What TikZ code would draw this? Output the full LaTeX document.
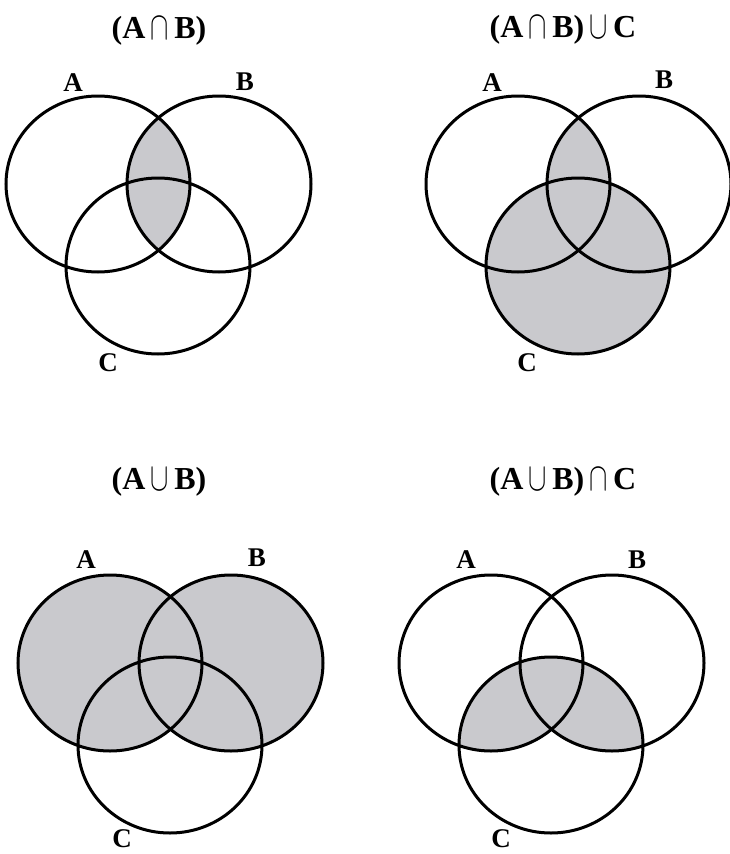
\documentclass[tikz,border=0pt]{standalone}
\usepackage{fontspec}
\usepackage{graphicx}
\setmainfont{Liberation Serif}
\definecolor{vgray}{HTML}{C9C9CD}

\tikzset{
  setline/.style={line width=3pt, draw=black},
  setfill/.style={fill=vgray},
  setlbl/.style={font=\fontsize{27}{32}\selectfont\bfseries, inner sep=0pt},
  settitle/.style={font=\fontsize{32}{38}\selectfont\bfseries, inner sep=0pt},
}

% the three sets of one panel, A at the panel origin
\newcommand{\setA}{(0,0) ellipse (92pt and 88pt)}
\newcommand{\setB}{(121,0) ellipse (92pt and 88pt)}
\newcommand{\setC}{(60,82) ellipse (92pt and 88pt)}
% tall thin set operators of the titles
\newcommand{\tcap}{\,\raisebox{-1pt}{\scalebox{1.1}[1.6]{$\cap$}}\,}
\newcommand{\tcup}{\,\raisebox{-1pt}{\scalebox{1.1}[1.6]{$\cup$}}\,}

\begin{document}
\begin{tikzpicture}[x=1pt, y=-1pt]

% Background
\useasboundingbox (0,0) rectangle (729,854);
\fill[white] (0,0) rectangle (729,854);

% Panel 1: A cap B
\begin{scope}[shift={(98,184)}]
  \begin{scope}
    \clip \setA;
    \fill[setfill] \setB;
  \end{scope}
  \draw[setline] \setA \setB \setC;
  \node[setlbl] (lblA1) at (-25,-101) {A};
  \node[setlbl] (lblB1) at (147,-102) {B};
  \node[setlbl] (lblC1) at (10,179) {C};
\end{scope}
\node[settitle] (ttl1) at (159,31) {(A\tcap B)};

% Panel 2: (A cap B) cup C
\begin{scope}[shift={(518,184)}]
  \fill[setfill] \setC;
  \begin{scope}
    \clip \setA;
    \fill[setfill] \setB;
  \end{scope}
  \draw[setline] \setA \setB \setC;
  \node[setlbl] (lblA2) at (-26,-101) {A};
  \node[setlbl] (lblB2) at (146,-104) {B};
  \node[setlbl] (lblC2) at (9,179) {C};
\end{scope}
\node[settitle] (ttl2) at (563,30) {(A\tcap B)\tcup C};

% Panel 3: A cup B
\begin{scope}[shift={(110,663)}]
  \fill[setfill] \setA \setB;
  \draw[setline] \setA \setB \setC;
  \node[setlbl] (lblA3) at (-24,-103) {A};
  \node[setlbl] (lblB3) at (147,-105) {B};
  \node[setlbl] (lblC3) at (12,176) {C};
\end{scope}
\node[settitle] (ttl3) at (159,482) {(A\tcup B)};

% Panel 4: (A cup B) cap C
\begin{scope}[shift={(491,663)}]
  \begin{scope}
    \clip \setC;
    \fill[setfill] \setA;
    \fill[setfill] \setB;
  \end{scope}
  \draw[setline] \setA \setB \setC;
  \node[setlbl] (lblA4) at (-25,-103) {A};
  \node[setlbl] (lblB4) at (146,-103) {B};
  \node[setlbl] (lblC4) at (10,176) {C};
\end{scope}
\node[settitle] (ttl4) at (563,482) {(A\tcup B)\tcap C};

\end{tikzpicture}
\end{document}
